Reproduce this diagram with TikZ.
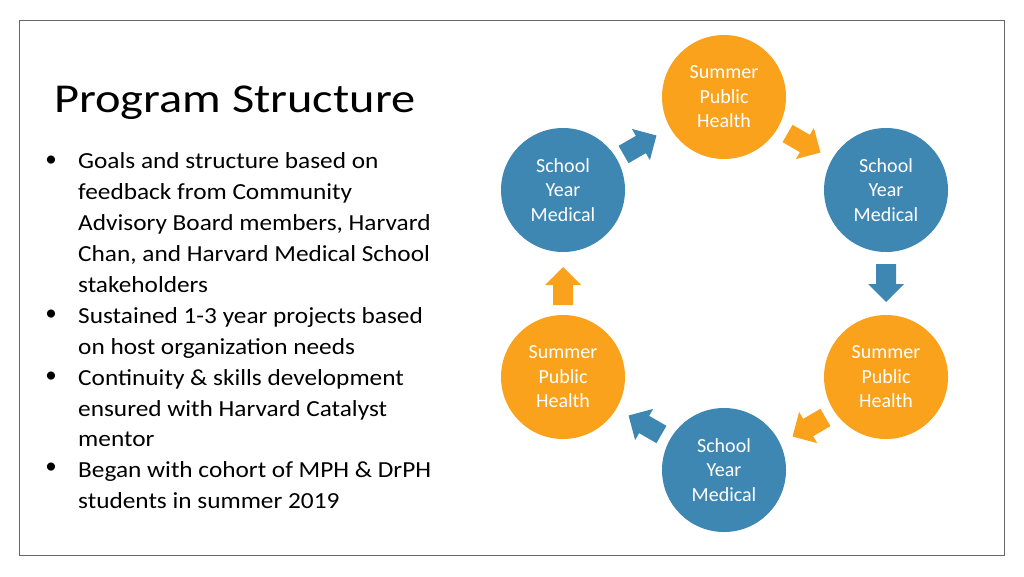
\documentclass[tikz,border=0pt]{standalone}
\usepackage{fontspec}
\setmainfont{Carlito}
\definecolor{org}{HTML}{FAA21B}
\definecolor{blu}{HTML}{3E87B3}
\begin{document}
\begin{tikzpicture}[x=1pt,y=-1pt,
  circ/.style={circle,minimum size=124pt,inner sep=0pt,text=white,align=center,font=\fontsize{20}{24.5}\selectfont},
  oc/.style={circ,fill=org}, bc/.style={circ,fill=blu},
  btxt/.style={anchor=north west,inner sep=0pt,align=left,font=\fontsize{23}{30.9}\selectfont},
  bul/.style={anchor=center,inner sep=0pt,font=\fontsize{23}{30.9}\selectfont}]
\useasboundingbox (0,0) rectangle (1024,576);
\draw[gray!80!black,line width=0.8pt] (19,20) rectangle (1004,555);
\node[anchor=west,font=\fontsize{41}{48}\selectfont,inner sep=0pt] (title) at (54,103) {\scalebox{1.18}[1]{Program Structure}};
\node[btxt] (t1) at (78,147) {\scalebox{1.1}[1]{\begin{tabular}{@{}l@{}}Goals and structure based on\\ feedback from Community\\ Advisory Board members, Harvard\\ Chan, and Harvard Medical School\\ stakeholders\\ Sustained 1-3 year projects based\\ on host organization needs\\ Continuity \& skills development\\ ensured with Harvard Catalyst\\ mentor\\ Began with cohort of MPH \& DrPH\\ students in summer 2019\end{tabular}}};
\foreach \yy/\nm in {161/b1,315/b2,377/b3,468/b4}{\node[bul] (\nm) at (51,\yy) {\textbullet};}
\node[oc] (top) at (724,97) {Summer\\Public\\Health};
\node[bc] (ur) at (886,190) {School\\Year\\Medical};
\node[oc] (lr) at (886,377) {Summer\\Public\\Health};
\node[bc] (bot) at (724,470) {School\\Year\\Medical};
\node[oc] (ll) at (563,377) {Summer\\Public\\Health};
\node[bc] (ul) at (563,190) {School\\Year\\Medical};
\foreach \px/\py/\rr/\cc in {640/145/30/blu,804/143/-30/org,886/283/-90/blu,809/427/210/org,645/425/150/blu,563/286/90/org}{
  \fill[\cc,shift={(\px,\py)},rotate=\rr] (-19,-10) -- (1,-10) -- (1,-18) -- (19,0) -- (1,18) -- (1,10) -- (-19,10) -- cycle;}
\end{tikzpicture}
\end{document}
